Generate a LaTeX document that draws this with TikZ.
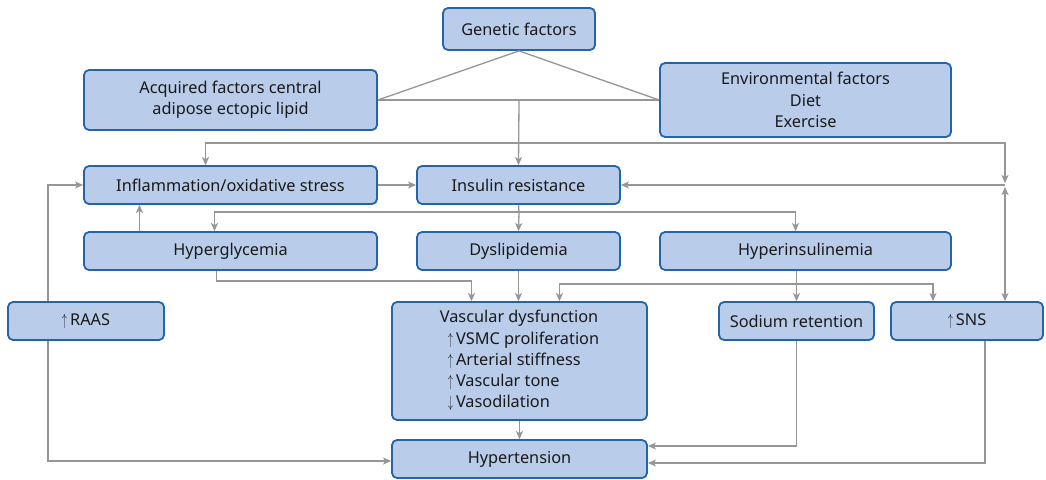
\documentclass[tikz,border=0pt]{standalone}
\usepackage{fontspec}
\setmainfont{Noto Sans}
\usetikzlibrary{arrows.meta}
\definecolor{boxfill}{RGB}{185,205,235}
\definecolor{boxedge}{RGB}{35,100,170}
\definecolor{conn}{RGB}{150,150,150}
\definecolor{txt}{RGB}{25,25,25}
\newcommand{\uparr}{\scalebox{0.6}[0.95]{$\uparrow$}\kern3pt}
\newcommand{\downarr}{\scalebox{0.6}[0.95]{$\downarrow$}\kern3pt}
\begin{document}
\begin{tikzpicture}[x=1pt,y=-1pt,
  box/.style={draw=boxedge,fill=boxfill,line width=1.8pt,rounded corners=5pt,inner sep=0pt,align=center,text=txt,font=\fontsize{16.3}{21.2}\selectfont},
  tip/.tip={Stealth[length=8pt,width=7pt,inset=2pt]},
  link/.style={draw=conn,line width=1.3pt,-tip},
  dlink/.style={draw=conn,line width=1.3pt,tip-tip},
  plain/.style={draw=conn,line width=1.3pt}]
\useasboundingbox[fill=white] (0,0) rectangle (1046,479);

\node[box,minimum width=152pt,minimum height=42pt] (gen) at (519,29) {Genetic factors};
\node[box,minimum width=293pt,minimum height=60pt] (acq) at (230.5,100) {Acquired factors central\\adipose ectopic lipid};
\node[box,minimum width=291pt,minimum height=74pt] (env) at (805.5,100) {Environmental factors\\Diet\\Exercise};
\node[box,minimum width=293pt,minimum height=38pt] (inf) at (230.5,185) {Inflammation/oxidative stress};
\node[box,minimum width=203pt,minimum height=38pt] (ins) at (518.5,185) {Insulin resistance};
\node[box,minimum width=293pt,minimum height=38pt] (hgl) at (230.5,251) {Hyperglycemia};
\node[box,minimum width=203pt,minimum height=38pt] (dys) at (518.5,251) {Dyslipidemia};
\node[box,minimum width=291pt,minimum height=38pt] (hin) at (805.5,251) {Hyperinsulinemia};
\node[box,minimum width=156pt,minimum height=38pt] (raas) at (86,321) {\uparr RAAS};
\node[box,minimum width=255pt,minimum height=118pt] (vas) at (519.5,361) {\begin{tabular}{@{}l@{}}Vascular dysfunction\\\hspace{8pt}\uparr VSMC proliferation\\\hspace{8pt}\uparr Arterial stiffness\\\hspace{8pt}\uparr Vascular tone\\\hspace{8pt}\downarr Vasodilation\end{tabular}};
\node[box,minimum width=155pt,minimum height=38pt] (sod) at (796.5,321) {Sodium retention};
\node[box,minimum width=152pt,minimum height=38pt] (sns) at (967,321) {\uparr SNS};
\node[box,minimum width=255pt,minimum height=38pt] (hyp) at (519.5,459) {Hypertension};

% top triangle
\draw[plain] (acq.east) -- (gen.south) -- (env.west);
\draw[plain] (acq.east) -- (env.west);
\coordinate (j1) at (519,100);
\draw[link] (j1) -- (ins.north);
\coordinate (t1) at (519,143);
\coordinate (jr) at (1005,185);
\draw[link] (t1) -| ([xshift=-25pt]inf.north);
\draw[link,shorten >=2pt] (t1) -| (jr);
\draw[link] (jr) -- (ins.east);
\draw[dlink,shorten <=2pt] (jr) -- (jr |- sns.north);
\draw[link] (inf.east) -- (ins.west);

% insulin resistance branches
\coordinate (t2) at (519,212);
\draw[plain] (ins.south) -- (t2);
\draw[link] (t2) -| ([xshift=-16pt]hgl.north);
\draw[link] (t2) -- (dys.north);
\draw[link] (t2) -| ([xshift=-10pt]hin.north);
\draw[link] ([xshift=-91pt]hgl.north) -- ([xshift=-91pt]inf.south);

% RAAS
\draw[link] ([xshift=-38pt]raas.north) |- (inf.west);
\draw[link] ([xshift=-38pt]raas.south) |- ([yshift=-2pt]hyp.west);

% to vascular dysfunction
\draw[link] ([xshift=-14pt]hgl.south) -- ++(0,10) -| ([xshift=-48pt]vas.north);
\draw[link] (dys.south) -- (dys.south |- vas.north);
\draw[plain] ([xshift=-9pt]hin.south) -- ++(0,13) coordinate (t3);
\draw[link] (t3) -| ([xshift=40pt]vas.north);
\draw[link] (t3) -- (t3 |- sod.north);
\draw[link] (t3) -| ([xshift=-34pt]sns.north);

% to hypertension
\draw[link] (vas.south) -- (hyp.north);
\draw[link] (sod.south) |- ([yshift=13pt]hyp.east);
\draw[link] ([xshift=18pt]sns.south) |- ([yshift=-4pt]hyp.east);
\end{tikzpicture}
\end{document}
